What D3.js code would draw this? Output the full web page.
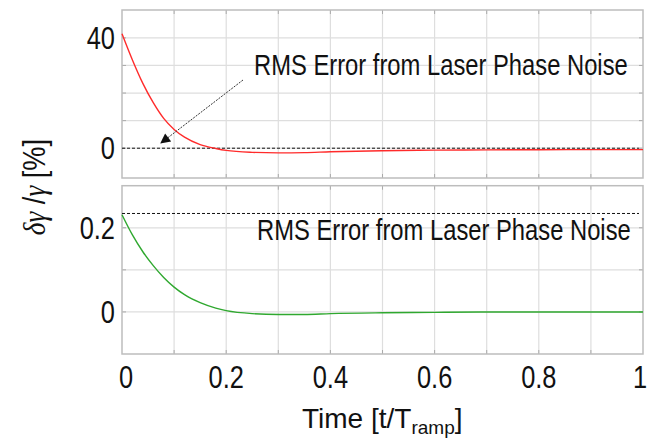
<!DOCTYPE html>
<html><head><meta charset="utf-8">
<script src="https://cdn.jsdelivr.net/npm/d3@7"></script>
<style>
html,body{margin:0;padding:0;background:#fff;}
svg{display:block;}
.t{font-family:"Liberation Sans",Arial,sans-serif;fill:#111;}
</style></head>
<body>
<svg id="c" width="647" height="444"></svg>
<script>
// ---- data ----
const times      = [0, 0.02, 0.04, 0.06, 0.08, 0.10, 0.12, 0.15, 0.18, 0.20, 0.25, 0.30, 0.35, 0.40, 0.50, 0.60, 0.70, 0.80, 0.90, 1.00];
const topValues  = [41.5, 32, 23.5, 16.5, 10.8, 6.8, 4.0, 1.3, -0.1, -0.8, -1.5, -1.7, -1.6, -1.3, -0.9, -0.7, -0.6, -0.55, -0.5, -0.5];
const botValues  = [0.231, 0.183, 0.143, 0.110, 0.082, 0.059, 0.041, 0.022, 0.009, 0.003, -0.004, -0.006, -0.006, -0.004, -0.002, -0.001, 0, 0, 0, 0];
const topRms = 0;
const botRms = 0.234;
const xTicks = [0, 0.2, 0.4, 0.6, 0.8, 1];
const xGrid = [0.1,0.2,0.3,0.4,0.5,0.6,0.7,0.8,0.9];
const topTickLabels = [0, 40];
const topGrid = [0, 10, 20, 30, 40];
const botTickLabels = [0, 0.2];
const botGrid = [0, 0.1, 0.2];
const annotation = "RMS Error from Laser Phase Noise";

// ---- layout ----
const svg = d3.select("#c");
const L = 122, R = 643;
const NARROW = 0.82;
const x = d3.scaleLinear().domain([0,1]).range([L,R]);
const yTop = d3.scaleLinear().domain([-10.8, 50.1]).range([178, 10]);
const yBot = d3.scaleLinear().domain([-0.1, 0.3]).range([354, 185.7]);

function ntext(parent, px, py, size, anchor, sx) {
  return parent.append("g").attr("transform", `translate(${px},${py}) scale(${sx || NARROW},1)`)
    .append("text").attr("class","t").attr("font-size", size).attr("text-anchor", anchor || "start");
}

function panel(y, grid, labels, values, rms, color) {
  const g = svg.append("g");
  const [y0, y1] = y.range();
  g.selectAll(".vg").data(xGrid).join("line")
    .attr("x1", d=>x(d)).attr("x2", d=>x(d)).attr("y1", y1).attr("y2", y0)
    .attr("stroke", "#dedede").attr("stroke-width", 1.2);
  g.selectAll(".hg").data(grid).join("line")
    .attr("x1", L).attr("x2", R).attr("y1", d=>y(d)).attr("y2", d=>y(d))
    .attr("stroke", "#dedede").attr("stroke-width", 1.2);
  xGrid.forEach(d=>{
    g.append("line").attr("x1",x(d)).attr("x2",x(d)).attr("y1",y0).attr("y2",y0-4).attr("stroke","#aaa");
    g.append("line").attr("x1",x(d)).attr("x2",x(d)).attr("y1",y1).attr("y2",y1+4).attr("stroke","#aaa");
  });
  grid.forEach(d=>{
    g.append("line").attr("x1",L).attr("x2",L+4).attr("y1",y(d)).attr("y2",y(d)).attr("stroke","#aaa");
    g.append("line").attr("x1",R).attr("x2",R-4).attr("y1",y(d)).attr("y2",y(d)).attr("stroke","#aaa");
  });
  g.append("rect").attr("x", L).attr("y", y1).attr("width", R-L).attr("height", y0-y1)
    .attr("fill","none").attr("stroke","#bdbdbd").attr("stroke-width",1.5);
  g.append("line").attr("x1", L).attr("x2", R-4).attr("y1", y(rms)).attr("y2", y(rms))
    .attr("stroke","#111").attr("stroke-width",1).attr("stroke-dasharray","3,2");
  const line = d3.line().x((d,i)=>x(times[i])).y(d=>y(d)).curve(d3.curveMonotoneX);
  g.append("path").datum(values).attr("d", line).attr("fill","none")
    .attr("stroke", color).attr("stroke-width", 1.4);
  labels.forEach(d=>{
    ntext(g, L-7, y(d), 31, "end").attr("dy","0.36em").text(d);
  });
}

panel(yTop, topGrid, topTickLabels, topValues, topRms, "#ff2b2b");
panel(yBot, botGrid, botTickLabels, botValues, botRms, "#2fa82f");

// annotations
ntext(svg, 254, 75, 29).text(annotation);
ntext(svg, 257, 240, 29).text(annotation);

// arrow
svg.append("defs").append("marker").attr("id","ah").attr("viewBox","0 0 10 10")
  .attr("refX",9).attr("refY",5).attr("markerWidth",13).attr("markerHeight",10)
  .attr("markerUnits","userSpaceOnUse").attr("orient","auto")
  .append("path").attr("d","M0,0 L10,5 L0,10 z").attr("fill","#111");
svg.append("line").attr("x1",243).attr("y1",80).attr("x2",161).attr("y2",143)
  .attr("stroke","#333").attr("stroke-width",1).attr("stroke-dasharray","2,1.2")
  .attr("marker-end","url(#ah)");

// x tick labels
xTicks.forEach(d=>{
  const dx = d===0 ? 4 : (d===1 ? -3 : 0);
  ntext(svg, x(d) + dx, 388, 31, "middle").text(d);
});

// x title
const xt = ntext(svg, 302, 428, 28, "start", 1.0);
xt.append("tspan").text("Time [t/T");
xt.append("tspan").attr("font-size", 19).attr("dy", 6).text("ramp");
xt.append("tspan").attr("dy", -6).text("]");

// y title
const yt = svg.append("g").attr("transform","translate(45,187) rotate(-90)")
  .append("g").attr("transform", `scale(${NARROW+0.06},1)`)
  .append("text").attr("class","t").attr("text-anchor","middle").attr("font-size", 31);
yt.append("tspan").attr("font-family","Liberation Serif, serif").attr("font-style","italic").text("δγ");
yt.append("tspan").text(" /");
yt.append("tspan").attr("font-family","Liberation Serif, serif").attr("font-style","italic").text("γ");
yt.append("tspan").text(" [%]");
</script>
</body></html>
